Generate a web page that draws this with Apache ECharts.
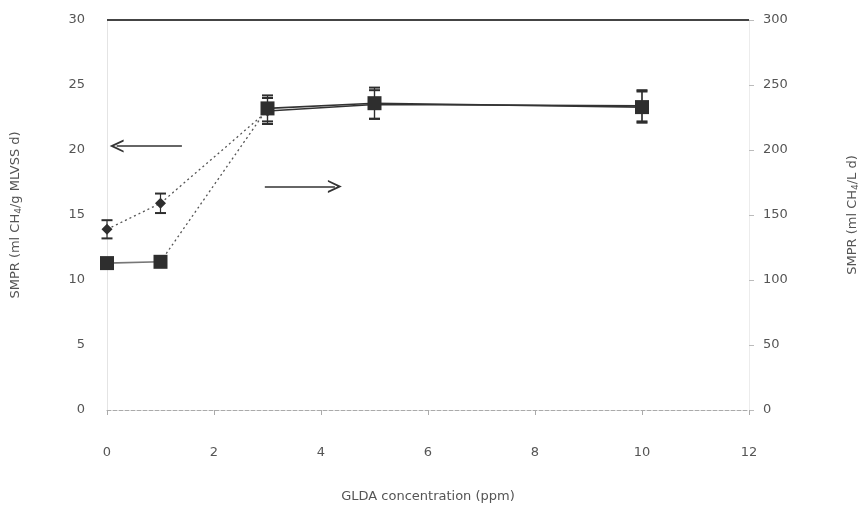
<!DOCTYPE html>
<html>
<head>
<meta charset="utf-8">
<script src="https://cdn.jsdelivr.net/npm/echarts@6/dist/echarts.min.js"></script>
<style>
  html, body { margin: 0; padding: 0; background: #fff; }
  #chart { width: 865px; height: 519px; }
</style>
</head>
<body>
<div id="chart"></div>
<script>
// GLDA dose (ppm)
const glda = [0, 1, 3, 5, 10];
// Specific methane production rate per biomass (left axis) and its error
const smprBiomass = [13.9, 15.9, 23.0, 23.5, 23.4];
const smprBiomassErr = [0.7, 0.75, 1.0, 1.1, 1.2];
// Volumetric methane production rate (right axis) and its error
const smprVolume = [113, 114, 232, 236, 233];
const smprVolumeErr = [1, 1, 10, 12, 12];

const xTicks = [0, 2, 4, 6, 8, 10, 12];
const leftTicks = [0, 5, 10, 15, 20, 25, 30];
const rightTicks = [0, 50, 100, 150, 200, 250, 300];

const ink = '#2e2e2e';
const labelColor = '#555';
const fontFamily = '"DejaVu Sans", sans-serif';
const chevron = 'path://M0,0 L10,12 L7.2,12 L0,3.8 L-7.2,12 L-10,12 Z';

function points(values, from, to) {
  return glda.slice(from, to).map((x, i) => [x, values[from + i]]);
}

function segment(values, axisIndex, from, to, style) {
  return {
    type: 'line',
    yAxisIndex: axisIndex,
    data: points(values, from, to),
    symbol: 'none',
    silent: true,
    z: 2,
    lineStyle: style
  };
}

function errorBars(values, errs, axisIndex) {
  return {
    type: 'custom',
    yAxisIndex: axisIndex,
    silent: true,
    z: 3,
    data: glda.map((x, i) => [x, values[i] - errs[i], values[i] + errs[i]]),
    renderItem: function (params, api) {
      const lo = api.coord([api.value(0), api.value(1)]);
      const hi = api.coord([api.value(0), api.value(2)]);
      const w = 5.5;
      const style = { stroke: ink, lineWidth: 2 };
      return {
        type: 'group',
        children: [
          { type: 'line', shape: { x1: lo[0], y1: lo[1], x2: hi[0], y2: hi[1] }, style: { stroke: ink, lineWidth: 1.2 } },
          { type: 'line', shape: { x1: lo[0] - w, y1: lo[1], x2: lo[0] + w, y2: lo[1] }, style: style },
          { type: 'line', shape: { x1: hi[0] - w, y1: hi[1], x2: hi[0] + w, y2: hi[1] }, style: style }
        ]
      };
    }
  };
}

const dotted = { color: '#555', width: 1.3, type: [2, 3] };
const solidDark = { color: '#333', width: 1.6, type: 'solid' };
const solidGrey = { color: '#777', width: 1.6, type: 'solid' };

const chart = echarts.init(document.getElementById('chart'), null, { renderer: 'canvas' });

chart.setOption({
  backgroundColor: '#fff',
  animation: false,
  textStyle: { fontFamily: fontFamily },
  grid: { left: 107, right: 116, top: 20, bottom: 109, containLabel: false, outerBoundsMode: 'none' },
  xAxis: {
    type: 'value',
    min: 0, max: 12, interval: 2,
    name: 'GLDA concentration (ppm)',
    nameLocation: 'middle',
    nameGap: 80,
    nameTextStyle: { color: labelColor, fontSize: 13, fontFamily: fontFamily },
    axisLine: { show: true, lineStyle: { color: '#aaa', width: 1, type: [4, 2] } },
    axisTick: { show: true, length: 5, lineStyle: { color: '#aaa' } },
    axisLabel: { color: labelColor, fontSize: 13, margin: 36, formatter: v => xTicks.includes(v) ? String(v) : '' },
    splitLine: { show: false }
  },
  yAxis: [
    {
      type: 'value',
      min: 0, max: 30, interval: 5,
      position: 'left',
      name: 'SMPR (ml CH{sub|4}/g MLVSS d)',
      nameLocation: 'middle',
      nameGap: 84,
      nameRotate: 90,
      nameTextStyle: {
        color: labelColor, fontSize: 13, fontFamily: fontFamily,
        rich: { sub: { fontSize: 9, verticalAlign: 'bottom', color: labelColor, padding: [6, 0, 0, 0] } }
      },
      axisLine: { show: true, lineStyle: { color: '#e4e4e4' } },
      axisTick: { show: false },
      axisLabel: { color: labelColor, fontSize: 13, margin: 22, formatter: v => leftTicks.includes(v) ? String(v) : '' },
      splitLine: { show: false }
    },
    {
      type: 'value',
      min: 0, max: 300, interval: 50,
      position: 'right',
      name: 'SMPR (ml CH{sub|4}/L d)',
      nameLocation: 'middle',
      nameGap: 96,
      nameRotate: 90,
      nameTextStyle: {
        color: labelColor, fontSize: 13, fontFamily: fontFamily,
        rich: { sub: { fontSize: 9, verticalAlign: 'bottom', color: labelColor, padding: [6, 0, 0, 0] } }
      },
      axisLine: { show: true, lineStyle: { color: '#ececec' } },
      axisTick: { show: true, inside: false, length: 5, lineStyle: { color: '#bbb' } },
      axisLabel: { color: labelColor, fontSize: 13, margin: 14, formatter: v => rightTicks.includes(v) ? String(v) : '' },
      splitLine: { show: false }
    }
  ],
  series: [
    // connecting lines: dotted on the rise, solid on the plateau
    segment(smprBiomass, 0, 0, 3, dotted),
    segment(smprBiomass, 0, 2, 5, solidDark),
    segment(smprVolume, 1, 0, 2, solidGrey),
    segment(smprVolume, 1, 1, 3, dotted),
    segment(smprVolume, 1, 2, 5, solidDark),
    errorBars(smprBiomass, smprBiomassErr, 0),
    errorBars(smprVolume, smprVolumeErr, 1),
    {
      name: 'SMPR biomass',
      type: 'scatter',
      yAxisIndex: 0,
      data: points(smprBiomass, 0, glda.length),
      symbol: 'diamond',
      symbolSize: 11,
      itemStyle: { color: ink, opacity: 1 },
      z: 4,
      markLine: {
        silent: true,
        symbol: ['none', 'none'],
        label: { show: false },
        lineStyle: { color: '#444', width: 1.8, type: 'solid' },
        data: [
          [{ coord: [0, 30] }, { coord: [12, 30] }]
        ]
      }
    },
    {
      name: 'SMPR volume',
      type: 'scatter',
      yAxisIndex: 1,
      data: points(smprVolume, 0, glda.length),
      symbol: 'rect',
      symbolSize: 14,
      itemStyle: { color: ink, opacity: 1, borderRadius: 2 },
      z: 4
    },
    {
      // direction arrows pointing at the axis each series belongs to
      type: 'line',
      yAxisIndex: 0,
      data: [],
      markLine: {
        silent: true,
        label: { show: false },
        symbolSize: [13, 14],
        lineStyle: { color: '#333', width: 1.6, type: 'solid' },
        data: [
          [{ coord: [1.4, 20.3], symbol: 'none' }, { coord: [0.18, 20.3], symbol: chevron }],
          [{ coord: [2.95, 17.2], symbol: 'none' }, { coord: [4.26, 17.2], symbol: chevron }]
        ]
      }
    }
  ]
});
</script>
</body>
</html>
